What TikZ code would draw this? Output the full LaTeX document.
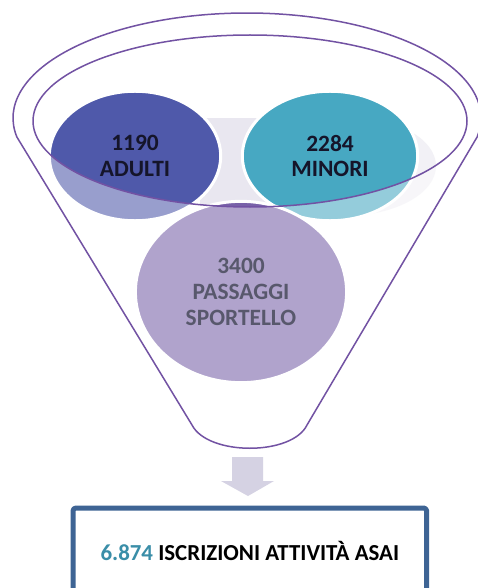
\documentclass[tikz,border=0pt]{standalone}
\usepackage{fontspec}
\setmainfont{Carlito}
\usepackage[svgnames]{xcolor}
\usetikzlibrary{shapes.geometric}
\definecolor{adultiblue}{HTML}{4F59AA}
\definecolor{minoriteal}{HTML}{47A8C2}
\definecolor{passlav}{HTML}{7861A8}
\definecolor{funnelline}{HTML}{7252A3}
\definecolor{shadowgray}{HTML}{E9E7F0}
\definecolor{arrowgray}{HTML}{D5D2E3}
\definecolor{boxblue}{HTML}{3E6494}
\definecolor{numteal}{HTML}{3A8EA8}
\definecolor{inkdark}{HTML}{15152A}
\definecolor{passtext}{HTML}{58586C}

\begin{document}
\begin{tikzpicture}[x=1bp, y=1bp, line join=round,
  bolla/.style={ellipse, draw=white, line width=3bp, inner sep=0pt},
  etichetta/.style={align=center, font=\fontsize{23.5}{26}\selectfont\bfseries},
  imbuto/.style={draw=funnelline, line width=1.5bp, fill=white, fill opacity=0.42, even odd rule}]
%%%%% Frame %%%%%
\clip (0,0) rectangle (478,-588);
\fill[white] (0,0) rectangle (478,-588);
% faint shapes behind the bubbles
\fill[shadowgray] (200,-118) rectangle (300,-205);
\fill[shadowgray!60] (344,-166) ellipse[x radius=92, y radius=50];
%%%%% Bubbles %%%%%
\node[bolla, fill=adultiblue, minimum width=172, minimum height=130] (adulti) at (135,-156) {};
\node[bolla, fill=minoriteal, minimum width=176, minimum height=130] (minori) at (330,-156) {};
\node[bolla, fill=passlav, minimum width=212, minimum height=182] (passaggi) at (241,-292) {};
%%%%% Funnel %%%%%
\path[imbuto] (247,-118) ++(-10.4:234 and 105)
  arc[start angle=-10.4, end angle=190.4, x radius=234, y radius=105]
  -- (192,-425) .. controls (208,-456) and (292,-456) .. (307,-425) -- cycle
  (250,-121) ellipse[x radius=217, y radius=86];
%%%%% Labels %%%%%
\node[etichetta, text=inkdark] (adultiT) at (adulti) {1190\\ADULTI};
\node[etichetta, text=inkdark] (minoriT) at (minori) {2284\\MINORI};
\node[etichetta, text=passtext] (passaggiT) at (passaggi) {3400\\PASSAGGI\\SPORTELLO};
%%%%% Arrow %%%%%
\fill[arrowgray] (232,-457) -- (263,-457) -- (263,-481) -- (274,-481) -- (248,-496)
  -- (221,-481) -- (232,-481) -- cycle;
%%%%% Result box %%%%%
\node[draw=boxblue, line width=5bp, rounded corners=3bp, fill=white,
  minimum width=355, minimum height=86, anchor=north west,
  font=\fontsize{23}{26}\selectfont\bfseries, text=black] (iscrizioni) at (70.5,-505.5)
  {{\color{numteal}6.874} ISCRIZIONI ATTIVITÀ ASAI};
\end{tikzpicture}
\end{document}
